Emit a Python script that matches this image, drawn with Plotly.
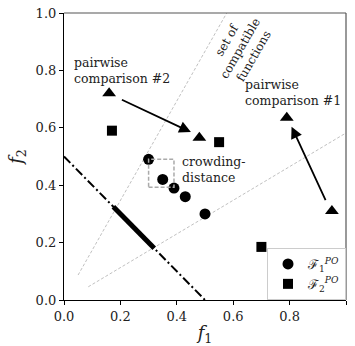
import plotly.graph_objects as go

# data
f1_x = [0.30, 0.35, 0.39, 0.43, 0.50]
f1_y = [0.49, 0.42, 0.39, 0.36, 0.30]
f2_x = [0.17, 0.55, 0.70]
f2_y = [0.59, 0.55, 0.185]
tri_x = [0.16, 0.48, 0.79, 0.95]
tri_y = [0.72, 0.565, 0.635, 0.31]
front_x = [0.0, 0.5]
front_y = [0.5, 0.0]
thick_x = [0.175, 0.32]
thick_y = [0.325, 0.18]
cone1_x = [0.05, 0.577]
cone1_y = [0.087, 1.0]
cone2_x = [0.086, 1.0]
cone2_y = [0.046, 0.582]
crowd_box = [0.30, 0.39, 0.393, 0.49]  # x0, x1, y0, y1
arrow2 = [0.20, 0.70, 0.45, 0.585]  # tail x,y, head x,y
arrow1 = [0.93, 0.343, 0.807, 0.604]
ticks = [0.0, 0.2, 0.4, 0.6, 0.8, 1.0]
tick_text = ["0.0", "0.2", "0.4", "0.6", "0.8", "1.0"]

FONT = "DejaVu Serif"
fig = go.Figure()
for cx, cy in [(cone1_x, cone1_y), (cone2_x, cone2_y)]:
    fig.add_trace(go.Scatter(x=cx, y=cy, mode="lines", showlegend=False,
                             line=dict(color="#b0b0b0", width=0.8, dash="3px,2px"), hoverinfo="skip"))
fig.add_trace(go.Scatter(x=front_x, y=front_y, mode="lines", showlegend=False,
                         line=dict(color="black", width=2, dash="9px,3px,2px,3px")))
fig.add_trace(go.Scatter(x=thick_x, y=thick_y, mode="lines", showlegend=False,
                         line=dict(color="black", width=5)))
fig.add_trace(go.Scatter(x=f1_x, y=f1_y, mode="markers", name="ℱ<sub>1</sub><sup><i>PO</i></sup>",
                         marker=dict(symbol="circle", size=11, color="black")))
fig.add_trace(go.Scatter(x=f2_x, y=f2_y, mode="markers", name="ℱ<sub>2</sub><sup><i>PO</i></sup>",
                         marker=dict(symbol="square", size=10, color="black")))
fig.add_trace(go.Scatter(x=tri_x, y=tri_y, mode="markers", showlegend=False,
                         marker=dict(symbol="triangle-up", size=12, color="black")))

fig.add_shape(type="rect", x0=crowd_box[0], x1=crowd_box[1], y0=crowd_box[2], y1=crowd_box[3],
              line=dict(color="#aaaaaa", width=1.5, dash="4px,2px"))

for a in [arrow2, arrow1]:
    fig.add_annotation(x=a[2], y=a[3], ax=a[0], ay=a[1], xref="x", yref="y", axref="x", ayref="y",
                       showarrow=True, arrowhead=2, arrowsize=1.3, arrowwidth=1.8, arrowcolor="black", text="")

tf = dict(family=FONT, size=12.5, color="#222")
fig.add_annotation(x=0.028, y=0.80, xref="x", yref="y", text="pairwise<br>comparison #2", showarrow=False,
                   xanchor="left", align="left", font=tf)
fig.add_annotation(x=0.636, y=0.723, xref="x", yref="y", text="pairwise<br>comparison #1", showarrow=False,
                   xanchor="left", align="left", font=tf)
fig.add_annotation(x=0.41, y=0.453, xref="x", yref="y", text="crowding-<br>distance", showarrow=False,
                   xanchor="left", align="left", font=tf)
fig.add_annotation(x=0.625, y=0.875, xref="x", yref="y", text="set of<br>compatible<br>functions", showarrow=False,
                   textangle=-60, align="center", font=dict(family=FONT, size=12, color="#222"))

axis = dict(range=[0, 1], tickvals=ticks, ticktext=tick_text, ticks="outside", ticklen=4,
            tickcolor="black", showgrid=False, zeroline=False, showline=True, linecolor="black",
            linewidth=1.2, mirror=False, automargin=False, tickfont=dict(family=FONT, size=13, color="#222"))
fig.update_xaxes(**axis, title=dict(text="<i>f</i><sub>1</sub>", font=dict(family=FONT, size=18, color="#222"), standoff=12))
fig.update_yaxes(**axis, title=dict(text="<i>f</i><sub>2</sub>", font=dict(family=FONT, size=18, color="#222"), standoff=8))
fig.add_shape(type="line", xref="paper", yref="paper", x0=0, x1=1, y0=1, y1=1, line=dict(color="#555", width=1.2))
fig.add_shape(type="line", xref="paper", yref="paper", x0=1, x1=1, y0=0, y1=1, line=dict(color="#555", width=1.2))

fig.update_layout(width=355, height=346, margin=dict(l=64, r=9, t=13, b=46),
                  plot_bgcolor="white", paper_bgcolor="white",
                  legend=dict(x=1, y=0, xanchor="right", yanchor="bottom", bordercolor="#cccccc", borderwidth=1,
                              bgcolor="white", font=dict(family=FONT, size=13, color="#222"),
                              tracegroupgap=2),
                  font=dict(family=FONT))
fig.write_html("out.html")
